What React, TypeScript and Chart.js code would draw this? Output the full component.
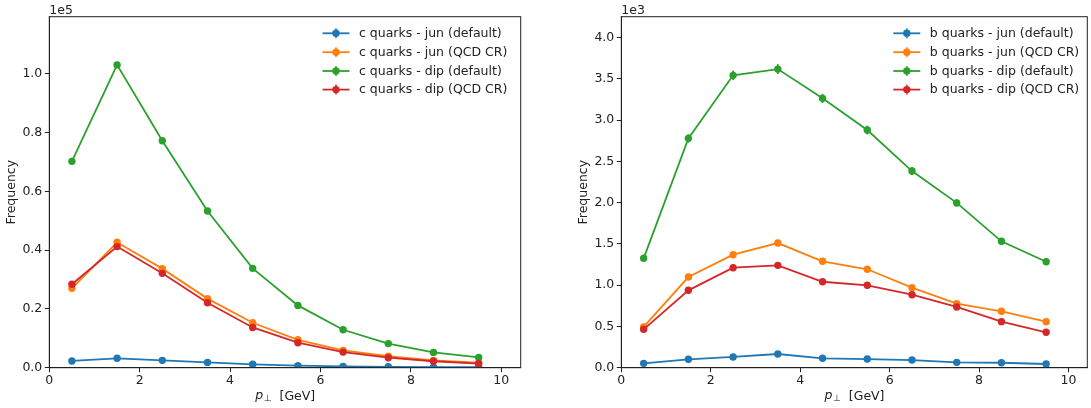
import React, { useEffect, useRef } from 'react';
import { Chart, registerables } from 'chart.js';
Chart.register(...registerables);

const FONT = "'DejaVu Sans', sans-serif";
const FS = 12.5;
const COLORS = ['#1f77b4', '#ff7f0e', '#2ca02c', '#d62728'];

const ptBins = [0.5, 1.5, 2.5, 3.5, 4.5, 5.5, 6.5, 7.5, 8.5, 9.5];
const xTicks = [0, 2, 4, 6, 8, 10];

// c quarks (raw counts)
const cLabels = ['c quarks - jun (default)', 'c quarks - jun (QCD CR)', 'c quarks - dip (default)', 'c quarks - dip (QCD CR)'];
const cJunDefault = [2300, 3200, 2500, 1800, 1150, 700, 450, 300, 200, 150];
const cJunQCD = [27000, 42650, 33700, 23500, 15300, 9500, 5900, 3900, 2500, 1700];
const cDipDefault = [70200, 103000, 77200, 53300, 33800, 21200, 12900, 8200, 5200, 3500];
const cDipQCD = [28400, 41200, 32100, 22100, 13700, 8500, 5300, 3400, 2200, 1400];
const cJunDefaultErr = [60, 70, 60, 50, 40, 30, 25, 20, 15, 12];
const cJunQCDErr = [200, 260, 230, 190, 150, 120, 95, 75, 60, 50];
const cDipDefaultErr = [330, 400, 350, 290, 230, 180, 140, 110, 90, 75];
const cDipQCDErr = [210, 250, 220, 180, 145, 115, 90, 70, 58, 48];
const cYTicks = [0, 20000, 40000, 60000, 80000, 100000];

// b quarks (raw counts)
const bLabels = ['b quarks - jun (default)', 'b quarks - jun (QCD CR)', 'b quarks - dip (default)', 'b quarks - dip (QCD CR)'];
const bJunDefault = [53, 102, 130, 166, 114, 105, 93, 65, 60, 45];
const bJunQCD = [495, 1099, 1370, 1511, 1290, 1193, 970, 776, 684, 558];
const bDipDefault = [1326, 2780, 3544, 3620, 3265, 2881, 2384, 1998, 1532, 1285];
const bDipQCD = [465, 938, 1212, 1241, 1042, 999, 885, 736, 558, 429];
const bJunDefaultErr = [7, 10, 11, 13, 10, 10, 9, 8, 7, 6];
const bJunQCDErr = [22, 32, 36, 38, 35, 33, 30, 27, 25, 23];
const bDipDefaultErr = [36, 52, 58, 60, 56, 53, 48, 44, 38, 35];
const bDipQCDErr = [21, 30, 34, 34, 31, 31, 29, 27, 23, 20];
const bYTicks = [0, 500, 1000, 1500, 2000, 2500, 3000, 3500, 4000];

type PanelCfg = {
  labels: string[];
  series: number[][];
  errors: number[][];
  yMax: number;
  yScale: number;
  yTicks: number[];
  offsetText: string;
  xMax: number;
  area: { left: number; top: number; right: number; bottom: number };
  canvasW: number;
  legendX: number;
};

function makeChart(canvas: HTMLCanvasElement, cfg: PanelCfg) {
  const H = 408;
  const datasets = cfg.series.map((s, i) => ({
    label: cfg.labels[i],
    data: ptBins.map((x, j) => ({ x, y: s[j] })),
    borderColor: COLORS[i],
    backgroundColor: COLORS[i],
    pointBackgroundColor: COLORS[i],
    pointBorderWidth: 0,
    pointRadius: 3.7,
    pointHoverRadius: 3.7,
    borderWidth: 1.8,
    tension: 0,
    order: 3 - i,
  }));

  const errPlugin = {
    id: 'errbars',
    beforeDatasetDraw(chart: any, args: any) {
      const i = args.index;
      const ctx = chart.ctx;
      const xs = chart.scales.x;
      const ys = chart.scales.y;
      ctx.save();
      ctx.strokeStyle = COLORS[i];
      ctx.lineWidth = 1.8;
      ptBins.forEach((x, j) => {
        const v = cfg.series[i][j];
        const e = cfg.errors[i][j];
        const px = xs.getPixelForValue(x);
        ctx.beginPath();
        ctx.moveTo(px, ys.getPixelForValue(v - e));
        ctx.lineTo(px, ys.getPixelForValue(v + e));
        ctx.stroke();
      });
      ctx.restore();
    },
  };

  const decoPlugin = {
    id: 'deco',
    afterDraw(chart: any) {
      const ctx = chart.ctx;
      const a = chart.chartArea;
      ctx.save();
      // frame
      ctx.strokeStyle = '#222';
      ctx.lineWidth = 1;
      ctx.strokeRect(a.left, a.top, a.right - a.left, a.bottom - a.top);
      ctx.fillStyle = '#222';
      // offset text
      ctx.font = `${FS}px ${FONT}`;
      ctx.textAlign = 'left';
      ctx.textBaseline = 'alphabetic';
      ctx.fillText(cfg.offsetText, a.left, 13.5);
      // y label
      ctx.save();
      ctx.translate(a.left - 38, (a.top + a.bottom) / 2);
      ctx.rotate(-Math.PI / 2);
      ctx.textAlign = 'center';
      ctx.textBaseline = 'middle';
      ctx.fillText('Frequency', 0, 0);
      ctx.restore();
      // x label: p⊥ [GeV]
      const cx = (a.left + a.right) / 2;
      const by = 399.5;
      ctx.textBaseline = 'alphabetic';
      ctx.textAlign = 'left';
      const pFont = `italic ${FS}px ${FONT}`;
      const subFont = `9px ${FONT}`;
      const restFont = `${FS}px ${FONT}`;
      ctx.font = pFont;
      const wp = ctx.measureText('p').width;
      ctx.font = subFont;
      const ws = ctx.measureText('⊥').width;
      ctx.font = restFont;
      const wr = ctx.measureText('  [GeV]').width;
      let x0 = cx - (wp + ws + wr) / 2;
      ctx.font = pFont;
      ctx.fillText('p', x0, by - 1);
      x0 += wp + 0.5;
      ctx.font = subFont;
      ctx.fillText('⊥', x0, by + 1);
      x0 += ws;
      ctx.font = restFont;
      ctx.fillText('  [GeV]', x0, by);
      // legend
      const rows = [33.3, 52.2, 71, 89.6];
      cfg.labels.forEach((lab, i) => {
        const y = rows[i];
        const lx = cfg.legendX;
        ctx.strokeStyle = COLORS[i];
        ctx.lineWidth = 1.8;
        ctx.beginPath();
        ctx.moveTo(lx, y);
        ctx.lineTo(lx + 27, y);
        ctx.stroke();
        ctx.globalAlpha = 0.8;
        ctx.beginPath();
        ctx.moveTo(lx + 13.5, y - 5);
        ctx.lineTo(lx + 13.5, y + 5);
        ctx.stroke();
        ctx.globalAlpha = 1;
        ctx.fillStyle = COLORS[i];
        ctx.beginPath();
        ctx.arc(lx + 13.5, y, 3.7, 0, Math.PI * 2);
        ctx.fill();
        ctx.fillStyle = '#222';
        ctx.font = `${FS}px ${FONT}`;
        ctx.textAlign = 'left';
        ctx.textBaseline = 'middle';
        ctx.fillText(lab, lx + 36.5, y + 0.5);
      });
      ctx.restore();
    },
  };

  const a = cfg.area;
  return new Chart(canvas, {
    type: 'line',
    data: { datasets },
    plugins: [errPlugin, decoPlugin],
    options: {
      animation: false,
      responsive: false,
      devicePixelRatio: 1,
      layout: { padding: { top: a.top, right: cfg.canvasW - a.right, left: 0, bottom: 0 } },
      plugins: { legend: { display: false }, tooltip: { enabled: false } },
      scales: {
        x: {
          type: 'linear',
          min: 0,
          max: cfg.xMax,
          afterFit(scale: any) { scale.height = H - a.bottom; },
          afterBuildTicks(scale: any) { scale.ticks = xTicks.map((v) => ({ value: v })); },
          ticks: {
            color: '#222',
            font: { family: FONT, size: FS },
            padding: 1,
            maxRotation: 0,
            callback: (v: any) => String(v),
          },
          grid: { drawOnChartArea: false, drawTicks: true, tickLength: 4.5, color: '#222', lineWidth: 1 },
          border: { display: true, color: '#222', width: 1 },
        },
        y: {
          type: 'linear',
          min: 0,
          max: cfg.yMax,
          afterFit(scale: any) { scale.width = a.left; },
          afterBuildTicks(scale: any) { scale.ticks = cfg.yTicks.map((v) => ({ value: v })); },
          ticks: {
            color: '#222',
            font: { family: FONT, size: FS },
            padding: 2.5,
            callback: (v: any) => (Number(v) / cfg.yScale).toFixed(1),
          },
          grid: { drawOnChartArea: false, drawTicks: true, tickLength: 4.5, color: '#222', lineWidth: 1 },
          border: { display: true, color: '#222', width: 1 },
        },
      },
    } as any,
  });
}

function Panel({ cfg, left }: { cfg: PanelCfg; left: number }) {
  const ref = useRef<HTMLCanvasElement>(null);
  useEffect(() => {
    if (!ref.current) return;
    const ch = makeChart(ref.current, cfg);
    return () => ch.destroy();
  }, []);
  return (
    <canvas
      ref={ref}
      width={cfg.canvasW}
      height={408}
      style={{ position: 'absolute', left, top: 0, width: cfg.canvasW, height: 408 }}
    />
  );
}

const leftCfg: PanelCfg = {
  labels: cLabels,
  series: [cJunDefault, cJunQCD, cDipDefault, cDipQCD],
  errors: [cJunDefaultErr, cJunQCDErr, cDipDefaultErr, cDipQCDErr],
  yMax: 119400,
  yScale: 100000,
  yTicks: cYTicks,
  offsetText: '1e5',
  xMax: 10.43,
  area: { left: 49.3, top: 16.7, right: 520.7, bottom: 367.7 },
  canvasW: 545,
  legendX: 322.5,
};

const rightCfg: PanelCfg = {
  labels: bLabels,
  series: [bJunDefault, bJunQCD, bDipDefault, bDipQCD],
  errors: [bJunDefaultErr, bJunQCDErr, bDipDefaultErr, bDipQCDErr],
  yMax: 4255,
  yScale: 1000,
  yTicks: bYTicks,
  offsetText: '1e3',
  xMax: 10.42,
  area: { left: 76.3, top: 16.7, right: 545, bottom: 367.7 },
  canvasW: 546,
  legendX: 348.3,
};

export default function App() {
  return (
    <div style={{ position: 'fixed', left: 0, top: 0, width: 1091, height: 408, background: '#fff' }}>
      <Panel cfg={leftCfg} left={0} />
      <Panel cfg={rightCfg} left={545} />
    </div>
  );
}
